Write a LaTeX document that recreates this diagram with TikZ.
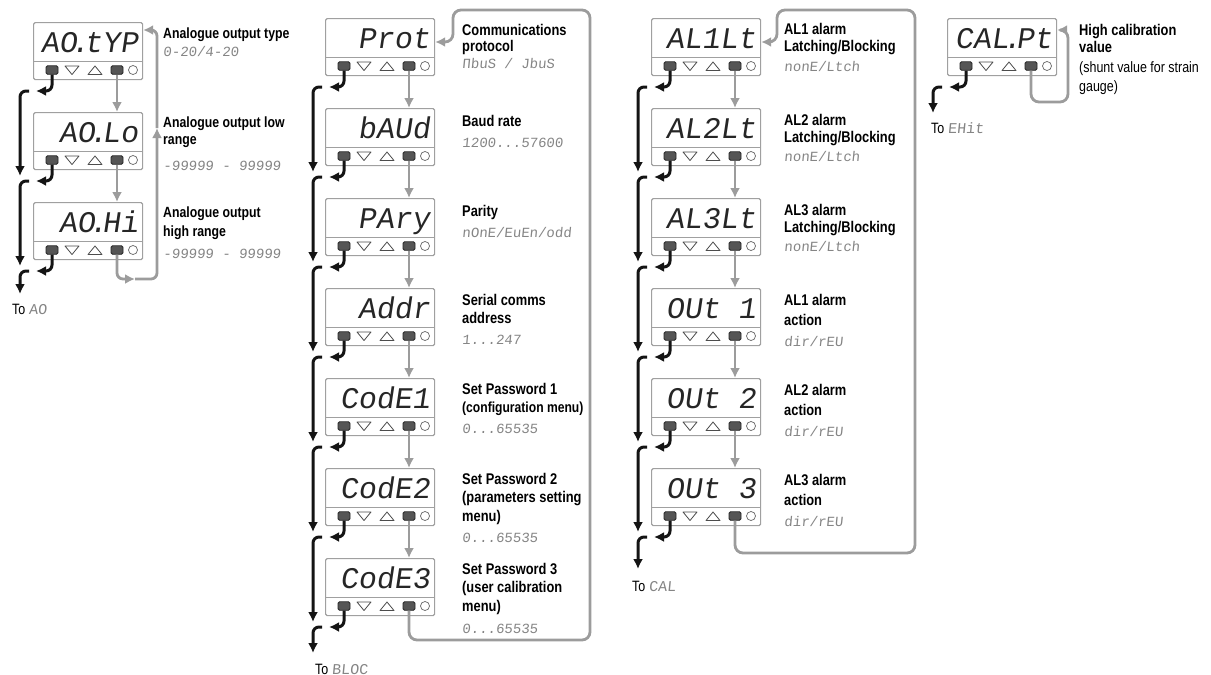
\documentclass[tikz,border=0pt]{standalone}
\usepackage{fontspec}
\usetikzlibrary{arrows.meta,calc}
\newfontfamily\lblfont[FakeStretch=0.83]{Liberation Sans}
\newfontfamily\dispfont[FakeSlant=0.15]{Liberation Mono}
\newfontfamily\segfont[FakeSlant=0.1]{Liberation Mono}
\definecolor{boxgray}{HTML}{A0A0A0}
\definecolor{linegray}{HTML}{9C9C9C}
\definecolor{seggray}{HTML}{858585}
\definecolor{btngray}{HTML}{555555}
\newcommand\dt{\kern-6pt.\kern-5pt}
\tikzset{
  devbox/.style={draw=boxgray, line width=1.2pt, rounded corners=1.5pt, minimum width=109pt, minimum height=57pt, inner sep=0pt, anchor=north west, fill=white},
  boxline/.style={draw=boxgray, line width=1pt},
  disp/.style={inner sep=0pt, anchor=base east, text=black!85, font=\dispfont\fontsize{30}{32}\selectfont},
  btn/.style={draw=black!85, fill=btngray, rounded corners=1.5pt, minimum width=12pt, minimum height=8.5pt, inner sep=0pt, line width=0.8pt},
  tri/.style={draw=black!70, line width=0.8pt, line join=round},
  circ/.style={draw=black!60, circle, minimum size=9pt, inner sep=0pt, line width=0.7pt},
  blk/.style={draw=black!92, line width=3pt, rounded corners=6pt, -{Latex[length=10pt,width=10pt]}},
  gry/.style={draw=linegray, line width=2.8pt, rounded corners=6pt, -{Latex[length=10pt,width=10pt]}},
  lbl/.style={anchor=base west, inner sep=0pt, font=\lblfont\bfseries\fontsize{15.5}{17}\selectfont},
  lbls/.style={anchor=base west, inner sep=0pt, font=\lblfont\bfseries\fontsize{14.6}{17}\selectfont},
  lbla/.style={anchor=base west, inner sep=0pt, font=\lblfont\bfseries\fontsize{14.8}{16}\selectfont},
  lblr/.style={anchor=base west, inner sep=0pt, font=\lblfont\fontsize{15}{17}\selectfont},
  seg/.style={anchor=base west, inner sep=0pt, text=seggray, font=\segfont\fontsize{14}{16}\selectfont},
  totext/.style={anchor=base west, inner sep=0pt, font=\lblfont\fontsize{15}{17}\selectfont},
}
\newcommand\dev[4]{%
  \node[devbox] (#1) at (#2,#3) {};
  \draw[boxline] ([yshift=-39pt]#1.north west) -- ([yshift=-39pt]#1.north east);
  \node[disp] (#1t) at ([xshift=-5pt,yshift=-30pt]#1.north east) {#4};
  \node[btn] (#1L) at ([xshift=19pt,yshift=-48pt]#1.north west) {};
  \coordinate (#1d) at ([xshift=39pt,yshift=-48pt]#1.north west);
  \draw[tri] ([xshift=-7pt,yshift=4pt]#1d) -- ([xshift=7pt,yshift=4pt]#1d) -- ([yshift=-4.5pt]#1d) -- cycle;
  \coordinate (#1u) at ([xshift=62pt,yshift=-48pt]#1.north west);
  \draw[tri] ([xshift=-7pt,yshift=-4.5pt]#1u) -- ([xshift=7pt,yshift=-4.5pt]#1u) -- ([yshift=4pt]#1u) -- cycle;
  \node[btn] (#1R) at ([xshift=84pt,yshift=-48pt]#1.north west) {};
  \node[circ] (#1c) at ([xshift=100pt,yshift=-48pt]#1.north west) {};
}
\begin{document}
\begin{tikzpicture}[x=1pt,y=-1pt]
\fill[white] (0,0) rectangle (1211,675);
\useasboundingbox (0,0) rectangle (1211,675);

% ---------------- column 1 ----------------
\dev{a1}{33}{22}{AO\dt tYP}
\dev{a2}{33}{112}{AO\dt Lo}
\dev{a3}{33}{202}{AO\dt Hi}
\node[lbla] (la1) at (163,38) {Analogue output type};
\node[seg] (va1) at (163,56) {0-20/4-20};
\node[lbla] (la2) at (163,127) {Analogue output low};
\node[lbla] (la2b) at (163,144) {range};
\node[seg] (va2) at (163,170) {-99999 - 99999};
\node[lbla] (la3) at (163,217) {Analogue output};
\node[lbla] (la3b) at (163,236) {high range};
\node[seg] (va3) at (163,258) {-99999 - 99999};

\foreach \n/\y in {a1/91,a2/181,a3/271}{
  \coordinate (j\n) at (36,\y);
  \coordinate (k\n) at (29,\y);
  \coordinate (t\n) at (20,\y-5);
}
\coordinate (enda) at (20,294);
\foreach \n in {a1,a2,a3}{\draw[blk] (\n L.south) |- (j\n);}
\draw[blk] (ka1) -| (ta2);
\draw[blk] (ka2) -| (ta3);
\draw[blk] (ka3) -| (enda);
\node[totext] (toa) at (12,314) {To \textcolor{seggray}{\segfont AO}};

\draw[gry] (a1R.south) -- (a1R.south |- a2.north);
\draw[gry] (a2R.south) -- (a2R.south |- a3.north);
\coordinate (ga1) at (135,279);
\coordinate (ga2) at (157,128);
\draw[gry] (a3R.south) |- (ga1);
\draw[gry] (ga1) -| (ga2);
\draw[gry] (ga2) |- ([yshift=-8pt]a1.north east);

% ---------------- column 2 ----------------
\dev{c1}{325}{18}{Prot}
\dev{c2}{325}{108}{bAUd}
\dev{c3}{325}{198}{PAry}
\dev{c4}{325}{288}{Addr}
\dev{c5}{325}{378}{CodE1}
\dev{c6}{325}{468}{CodE2}
\dev{c7}{325}{558}{CodE3}

\node[lbl] (lc1) at (462,35) {Communications};
\node[lbl] (lc1b) at (462,51) {protocol};
\node[seg] (vc1) at (462,68) {ΠbuS / JbuS};
\node[lbl] (lc2) at (462,126) {Baud rate};
\node[seg] (vc2) at (462,147) {1200...57600};
\node[lbl] (lc3) at (462,216) {Parity};
\node[seg] (vc3) at (462,237) {nOnE/EuEn/odd};
\node[lbl] (lc4) at (462,305) {Serial comms};
\node[lbl] (lc4b) at (462,323) {address};
\node[seg] (vc4) at (462,344) {1...247};
\node[lbl] (lc5) at (462,394) {Set Password 1};
\node[lbls] (lc5b) at (462,412) {(configuration menu)};
\node[seg] (vc5) at (462,433) {0...65535};
\node[lbl] (lc6) at (462,484) {Set Password 2};
\node[lbl] (lc6b) at (462,502) {(parameters setting};
\node[lbl] (lc6c) at (462,521) {menu)};
\node[seg] (vc6) at (462,542) {0...65535};
\node[lbl] (lc7) at (462,574) {Set Password 3};
\node[lbl] (lc7b) at (462,592) {(user calibration};
\node[lbl] (lc7c) at (462,611) {menu)};
\node[seg] (vc7) at (462,633) {0...65535};

\foreach \n/\y in {c1/87,c2/177,c3/267,c4/357,c5/447,c6/537,c7/627}{
  \coordinate (j\n) at (329,\y);
  \coordinate (k\n) at (322,\y);
  \coordinate (t\n) at (313,\y-5);
}
\coordinate (endc) at (313,653);
\foreach \n in {c1,c2,c3,c4,c5,c6,c7}{\draw[blk] (\n L.south) |- (j\n);}
\draw[blk] (kc1) -| (tc2);
\draw[blk] (kc2) -| (tc3);
\draw[blk] (kc3) -| (tc4);
\draw[blk] (kc4) -| (tc5);
\draw[blk] (kc5) -| (tc6);
\draw[blk] (kc6) -| (tc7);
\draw[blk] (kc7) -| (endc);
\node[totext] (toc) at (315,674) {To \textcolor{seggray}{\segfont BLOC}};

\draw[gry] (c1R.south) -- (c1R.south |- c2.north);
\draw[gry] (c2R.south) -- (c2R.south |- c3.north);
\draw[gry] (c3R.south) -- (c3R.south |- c4.north);
\draw[gry] (c4R.south) -- (c4R.south |- c5.north);
\draw[gry] (c5R.south) -- (c5R.south |- c6.north);
\draw[gry] (c6R.south) -- (c6R.south |- c7.north);
\coordinate (rc1) at (590,640);
\coordinate (rc2) at (590,10);
\coordinate (rc3) at (453,10);
\draw[gry, rounded corners=8pt] (c7R.south) |- (rc1) -- (rc2) -- (rc3) |- ([yshift=-24pt]c1.north east);

% ---------------- column 3 ----------------
\dev{e1}{651}{18}{AL1Lt}
\dev{e2}{651}{108}{AL2Lt}
\dev{e3}{651}{198}{AL3Lt}
\dev{e4}{651}{288}{OUt 1}
\dev{e5}{651}{378}{OUt 2}
\dev{e6}{651}{468}{OUt 3}

\node[lbl] (le1) at (784,34) {AL1 alarm};
\node[lbl] (le1b) at (784,51) {Latching/Blocking};
\node[seg] (ve1) at (784,71) {nonE/Ltch};
\node[lbl] (le2) at (784,125) {AL2 alarm};
\node[lbl] (le2b) at (784,142) {Latching/Blocking};
\node[seg] (ve2) at (784,161) {nonE/Ltch};
\node[lbl] (le3) at (784,215) {AL3 alarm};
\node[lbl] (le3b) at (784,232) {Latching/Blocking};
\node[seg] (ve3) at (784,251) {nonE/Ltch};
\node[lbl] (le4) at (784,305) {AL1 alarm};
\node[lbl] (le4b) at (784,325) {action};
\node[seg] (ve4) at (784,346) {dir/rEU};
\node[lbl] (le5) at (784,395) {AL2 alarm};
\node[lbl] (le5b) at (784,415) {action};
\node[seg] (ve5) at (784,436) {dir/rEU};
\node[lbl] (le6) at (784,485) {AL3 alarm};
\node[lbl] (le6b) at (784,505) {action};
\node[seg] (ve6) at (784,526) {dir/rEU};

\foreach \n/\y in {e1/87,e2/177,e3/267,e4/357,e5/447,e6/537}{
  \coordinate (j\n) at (654,\y);
  \coordinate (k\n) at (647,\y);
  \coordinate (t\n) at (638,\y-5);
}
\coordinate (ende) at (638,569);
\foreach \n in {e1,e2,e3,e4,e5,e6}{\draw[blk] (\n L.south) |- (j\n);}
\draw[blk] (ke1) -| (te2);
\draw[blk] (ke2) -| (te3);
\draw[blk] (ke3) -| (te4);
\draw[blk] (ke4) -| (te5);
\draw[blk] (ke5) -| (te6);
\draw[blk] (ke6) -| (ende);
\node[totext] (toe) at (632,591) {To \textcolor{seggray}{\segfont CAL}};

\draw[gry] (e1R.south) -- (e1R.south |- e2.north);
\draw[gry] (e2R.south) -- (e2R.south |- e3.north);
\draw[gry] (e3R.south) -- (e3R.south |- e4.north);
\draw[gry] (e4R.south) -- (e4R.south |- e5.north);
\draw[gry] (e5R.south) -- (e5R.south |- e6.north);
\coordinate (re1) at (915,553);
\coordinate (re2) at (915,10);
\coordinate (re3) at (777,10);
\draw[gry, rounded corners=8pt] (e6R.south) |- (re1) -- (re2) -- (re3) |- ([yshift=-24pt]e1.north east);

% ---------------- column 4 ----------------
\dev{f1}{947}{18}{CAL\dt Pt}
\node[lbl] (lf1) at (1079,35) {High calibration};
\node[lbl] (lf1b) at (1079,52) {value};
\node[lblr] (lf1c) at (1079,72) {(shunt value for strain};
\node[lblr] (lf1d) at (1079,91) {gauge)};
\coordinate (jf1) at (949,87);
\coordinate (kf1) at (942,87);
\coordinate (endf) at (933,113);
\draw[blk] (f1L.south) |- (jf1);
\draw[blk] (kf1) -| (endf);
\node[totext] (tof) at (931,133) {To \textcolor{seggray}{\segfont EHit}};
\coordinate (rf1) at (1068,102);
\draw[gry, rounded corners=8pt] (f1R.south) |- (rf1) |- ([yshift=-12pt]f1.north east);
\end{tikzpicture}
\end{document}
